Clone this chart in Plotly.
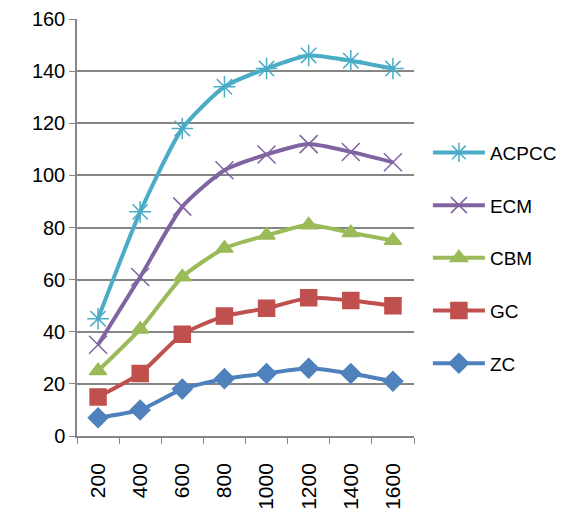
import plotly.graph_objects as go

categories = ["200", "400", "600", "800", "1000", "1200", "1400", "1600"]
acpcc = [45, 86, 118, 134, 141, 146, 144, 141]
ecm = [35, 61, 88, 102, 108, 112, 109, 105]
cbm = [25, 41, 61, 72, 77, 81, 78, 75]
gc = [15, 24, 39, 46, 49, 53, 52, 50]
zc = [7, 10, 18, 22, 24, 26, 24, 21]
y_ticks = [0, 20, 40, 60, 80, 100, 120, 140, 160]

series = [
    ("ACPCC", acpcc, "#4BACC6", "asterisk-open", 18),
    ("ECM", ecm, "#8064A2", "x-thin-open", 18),
    ("CBM", cbm, "#9BBB59", "triangle-up", 15),
    ("GC", gc, "#C0504D", "square", 16),
    ("ZC", zc, "#4F81BD", "diamond", 15),
]

fig = go.Figure()
for name, vals, color, sym, size in series:
    fig.add_trace(go.Scatter(
        x=categories, y=vals, name=name, mode="lines+markers",
        legendgroup=name,
        line=dict(color=color, width=4, shape="spline", smoothing=0.6),
        marker=dict(symbol=sym, size=size, color=color,
                    line=dict(color=color, width=1.5)),
    ))

fig.update_layout(
    width=569, height=531,
    margin=dict(l=69, r=163, t=11, b=103, autoexpand=False),
    paper_bgcolor="white", plot_bgcolor="white",
    font=dict(family="Liberation Sans, Arial, sans-serif", size=20, color="#000000"),
    legend=dict(xref="container", yref="container", x=0.738, y=0.529,
                xanchor="left", yanchor="middle",
                traceorder="grouped", tracegroupgap=25, itemwidth=52,
                font=dict(size=19), bgcolor="rgba(0,0,0,0)"),
    showlegend=True,
)
fig.update_xaxes(
    type="category", range=[-0.5, len(categories) - 0.5],
    tickangle=-90, tickson="boundaries", ticks="outside",
    ticklen=6, tickcolor="#868686", showline=True, linecolor="#868686",
    linewidth=1.5, showgrid=False, tickfont=dict(size=21), automargin=False,
    ticklabelstandoff=17,
)
fig.update_yaxes(
    range=[0, 160], tickvals=y_ticks, ticks="outside", ticklen=6,
    tickcolor="#868686", showline=True, linecolor="#868686", linewidth=1.5,
    showgrid=True, gridcolor="#868686", gridwidth=1.5, zeroline=False,
    tickfont=dict(size=20), automargin=False,
)

fig.write_html("out.html")
